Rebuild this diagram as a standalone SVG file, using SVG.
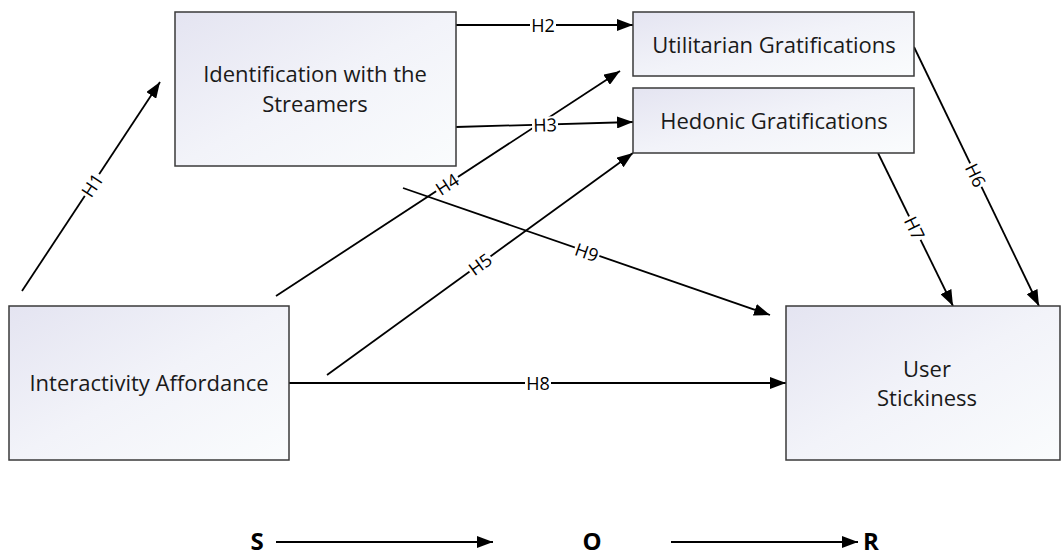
<svg xmlns="http://www.w3.org/2000/svg" width="1061" height="558" viewBox="0 0 1061 558">
  <style>
    .box { fill: url(#boxFill); stroke: #3a3a3a; stroke-width: 1.5; }
    .node-text { font-family: "Open Sans", Lato, sans-serif; font-size: 22px; fill: #1a1a1a; text-anchor: middle; }
    .edge { fill: none; stroke: #000; stroke-width: 1.8; }
    .gap { fill: #fff; }
    .lbl { font-family: "Open Sans", Lato, sans-serif; font-size: 18px; fill: #000; text-anchor: middle; dominant-baseline: central; }
    .sor { font-family: "Open Sans", Lato, sans-serif; font-size: 24px; font-weight: bold; fill: #000; text-anchor: middle; }
  </style>
  <defs>
    <linearGradient id="boxFill" x1="0" y1="0" x2="1" y2="1">
      <stop offset="0" stop-color="#e4e4f1"/>
      <stop offset="0.5" stop-color="#f2f3f9"/>
      <stop offset="1" stop-color="#fafcfd"/>
    </linearGradient>
    <marker id="arrow" markerUnits="userSpaceOnUse" markerWidth="16" markerHeight="12" viewBox="0 0 16 12" refX="16" refY="6" orient="auto">
      <path d="M0,0 L16,6 L0,12 Z" fill="#000"/>
    </marker>
  </defs>

  <rect width="1061" height="558" fill="#fff"/>

  <!-- connectors -->
  <g id="connectors">
    <line class="edge" x1="456" y1="25" x2="633" y2="25" marker-end="url(#arrow)"/>
    <line class="edge" x1="456" y1="127" x2="633" y2="122" marker-end="url(#arrow)"/>
    <line class="edge" x1="22" y1="291" x2="160" y2="82" marker-end="url(#arrow)"/>
    <line class="edge" x1="276" y1="296" x2="620" y2="71" marker-end="url(#arrow)"/>
    <line class="edge" x1="327" y1="375" x2="633" y2="153" marker-end="url(#arrow)"/>
    <line class="edge" x1="403" y1="188" x2="770" y2="315" marker-end="url(#arrow)"/>
    <line class="edge" x1="878" y1="153" x2="953" y2="306" marker-end="url(#arrow)"/>
    <line class="edge" x1="914" y1="47" x2="1039" y2="306" marker-end="url(#arrow)"/>
    <line class="edge" x1="289" y1="383" x2="786" y2="383" marker-end="url(#arrow)"/>

    <!-- hypothesis labels, each on a white gap in its line -->
    <g transform="translate(543,25)"><rect class="gap" x="-13" y="-8" width="26" height="16"/><text class="lbl">H2</text></g>
    <g transform="translate(545,124.5) rotate(-1.6)"><rect class="gap" x="-13" y="-8" width="26" height="16"/><text class="lbl">H3</text></g>
    <g transform="translate(92,185) rotate(-56.6)"><rect class="gap" x="-13" y="-8" width="26" height="16"/><text class="lbl">H1</text></g>
    <g transform="translate(447,184) rotate(-33.2)"><rect class="gap" x="-13" y="-8" width="26" height="16"/><text class="lbl">H4</text></g>
    <g transform="translate(480,264) rotate(-36)"><rect class="gap" x="-13" y="-8" width="26" height="16"/><text class="lbl">H5</text></g>
    <g transform="translate(587,252) rotate(19.1)"><rect class="gap" x="-13" y="-8" width="26" height="16"/><text class="lbl">H9</text></g>
    <g transform="translate(915,228) rotate(63.9)"><rect class="gap" x="-13" y="-8" width="26" height="16"/><text class="lbl">H7</text></g>
    <g transform="translate(976,175) rotate(64.2)"><rect class="gap" x="-13" y="-8" width="26" height="16"/><text class="lbl">H6</text></g>
    <g transform="translate(538,383)"><rect class="gap" x="-13" y="-8" width="26" height="16"/><text class="lbl">H8</text></g>
  </g>

  <!-- nodes -->
  <g id="identification">
    <rect class="box" x="175" y="12" width="281" height="154"/>
    <text class="node-text" x="315" y="82">Identification with the</text>
    <text class="node-text" x="315" y="112">Streamers</text>
  </g>
  <g id="utilitarian">
    <rect class="box" x="633" y="12" width="281" height="64"/>
    <text class="node-text" x="774" y="53">Utilitarian Gratifications</text>
  </g>
  <g id="hedonic">
    <rect class="box" x="633" y="88" width="281" height="65"/>
    <text class="node-text" x="774" y="129">Hedonic Gratifications</text>
  </g>
  <g id="interactivity">
    <rect class="box" x="9" y="306" width="280" height="154"/>
    <text class="node-text" x="149" y="391">Interactivity Affordance</text>
  </g>
  <g id="stickiness">
    <rect class="box" x="786" y="306" width="274" height="154"/>
    <text class="node-text" x="927" y="377">User</text>
    <text class="node-text" x="927" y="406">Stickiness</text>
  </g>

  <!-- S-O-R legend -->
  <g id="sor">
    <text class="sor" x="257" y="550">S</text>
    <line class="edge" x1="276" y1="542" x2="493" y2="542" marker-end="url(#arrow)"/>
    <text class="sor" x="592" y="550">O</text>
    <line class="edge" x1="671" y1="542" x2="858" y2="542" marker-end="url(#arrow)"/>
    <text class="sor" x="871" y="550">R</text>
  </g>
</svg>
